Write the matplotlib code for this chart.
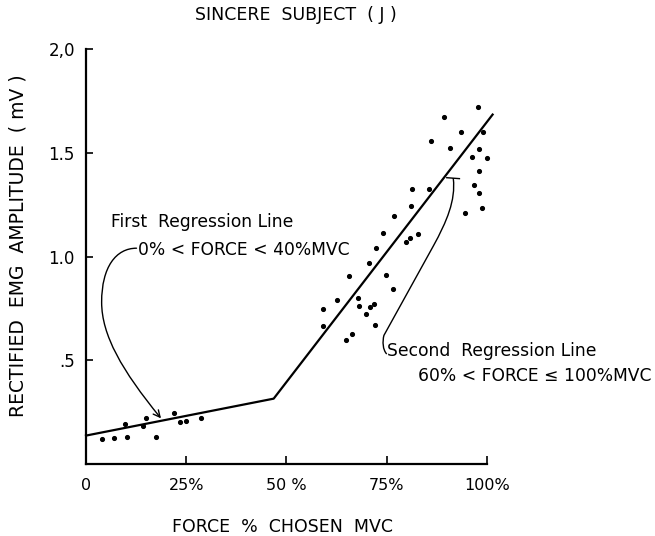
import numpy as np
import matplotlib
matplotlib.use("Agg")
import matplotlib.pyplot as plt
from matplotlib.path import Path
from matplotlib.patches import FancyArrowPatch, PathPatch

# --- data ---
# force as % of chosen MVC, rectified EMG amplitude in mV
low_force = [4.0, 7.0, 10.1, 9.7, 14.1, 15.0, 17.5, 22.0, 23.4, 24.9, 28.6]
low_emg = [0.121, 0.127, 0.131, 0.195, 0.182, 0.223, 0.131, 0.246, 0.203, 0.208, 0.222]

high_force = [59.0, 59.0, 62.6, 64.8, 66.3, 65.7, 67.8, 68.0, 69.8, 70.6,
              70.8, 71.8, 72.1, 72.3, 74.0, 74.8, 76.5, 76.9, 79.8, 80.8,
              81.0, 81.2, 82.9, 85.5, 86.1, 89.4, 90.8, 93.6, 94.5, 96.3,
              96.8, 97.7, 98.0, 98.1, 98.1, 98.7, 99.1, 99.9]
high_emg = [0.747, 0.663, 0.792, 0.596, 0.627, 0.907, 0.800, 0.762, 0.723, 0.971,
            0.757, 0.771, 0.670, 1.043, 1.112, 0.912, 0.843, 1.196, 1.068, 1.087,
            1.245, 1.326, 1.108, 1.324, 1.559, 1.671, 1.521, 1.599, 1.211, 1.479,
            1.343, 1.721, 1.413, 1.519, 1.308, 1.236, 1.599, 1.475]

# the two regression lines joined at the knee
fit_force = [0.0, 46.8, 101.4]
fit_emg = [0.137, 0.315, 1.684]

x_ticks = [0, 25, 50, 75, 100]
x_ticklabels = ["0", "25%", "50 %", "75%", "100%"]
y_ticks = [0.5, 1.0, 1.5, 2.0]
y_ticklabels = [".5", "1.0", "1.5", "2,0"]

fig = plt.figure(figsize=(6.55, 5.36), dpi=100)
ax = fig.add_axes([0.1313, 0.1343, 0.6122, 0.7743])

ax.plot(low_force, low_emg, 'o', color='black', markersize=2.7, clip_on=False)
ax.plot(high_force, high_emg, 'o', color='black', markersize=2.7, clip_on=False)
ax.plot(fit_force, fit_emg, color='black', linewidth=1.6, clip_on=False)

ax.set_xlim(0, 100)
ax.set_ylim(0, 2.0)
ax.set_xticks(x_ticks)
ax.set_xticklabels(x_ticklabels)
ax.set_yticks(y_ticks)
ax.set_yticklabels(y_ticklabels)
ax.tick_params(axis='x', direction='in', length=6, width=1.2, pad=10, labelsize=11.5)
ax.tick_params(axis='y', direction='in', length=5, width=1.2, pad=8, labelsize=12)

for side in ['top', 'right']:
    ax.spines[side].set_visible(False)
for side in ['left', 'bottom']:
    ax.spines[side].set_linewidth(1.6)

# --- labels ---
fig.text(0.451, 0.972, "SINCERE  SUBJECT  ( J )", ha='center', va='center', fontsize=12.5)
fig.text(0.028, 0.541, "RECTIFIED  EMG  AMPLITUDE  ( mV )", rotation=90,
         ha='center', va='center', fontsize=13.5)
fig.text(0.431, 0.017, "FORCE  %  CHOSEN  MVC", ha='center', va='center', fontsize=12.5)

# --- annotation 1 ---
ax.text(6.2, 1.167, "First  Regression Line", ha='left', va='center', fontsize=12.3)
ax.text(13.0, 1.031, "0% < FORCE < 40%MVC", ha='left', va='center', fontsize=12.3)
p1 = Path([(12.6, 1.04), (7.5, 1.04), (3.9, 0.95), (3.9, 0.78),
           (3.9, 0.62), (9.0, 0.45), (18.7, 0.22)],
          [Path.MOVETO, Path.CURVE4, Path.CURVE4, Path.CURVE4,
           Path.CURVE4, Path.CURVE4, Path.CURVE4])
ax.add_patch(FancyArrowPatch(path=p1, arrowstyle='->', mutation_scale=12,
                             color='black', linewidth=1.0, clip_on=False))

# --- annotation 2 ---
ax.text(75.1, 0.547, "Second  Regression Line", ha='left', va='center',
        fontsize=12.3, clip_on=False)
ax.text(82.8, 0.425, "60% < FORCE \u2264 100%MVC", ha='left', va='center',
        fontsize=12.3, clip_on=False)
p2 = Path([(75.0, 0.53), (74.0, 0.55), (73.9, 0.59), (74.3, 0.62),
           (86.6, 1.05), (90.0, 1.17), (92.2, 1.27), (91.6, 1.375),
           (89.8, 1.38), (93.3, 1.375)],
          [Path.MOVETO, Path.CURVE4, Path.CURVE4, Path.CURVE4,
           Path.LINETO, Path.CURVE4, Path.CURVE4, Path.CURVE4,
           Path.MOVETO, Path.LINETO])
ax.add_patch(PathPatch(p2, fill=False, edgecolor='black', linewidth=1.0, clip_on=False))

fig.savefig("out.png", dpi=100)
